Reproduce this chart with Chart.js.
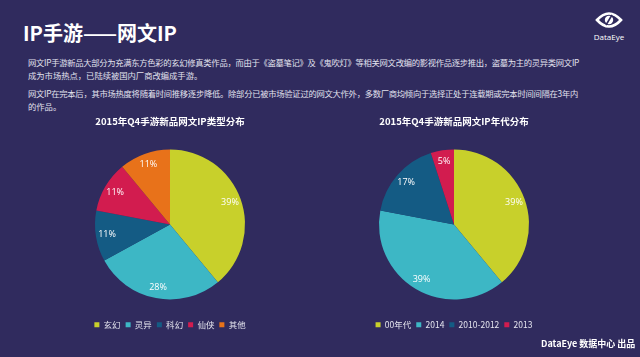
<!DOCTYPE html>
<html><head><meta charset="utf-8">
<script src="https://cdn.jsdelivr.net/npm/chart.js@4"></script>
<style>
html,body{margin:0;padding:0;}
body{width:640px;height:357px;background:#302b5e;position:relative;overflow:hidden;font-family:"Noto Sans CJK SC","Noto Sans",sans-serif;}
.abs{position:absolute;white-space:nowrap;}
#title{left:23px;top:19px;font-size:20px;font-weight:bold;color:#fff;line-height:28px;}
.p{left:28px;font-size:8.3px;color:#e2e2ee;line-height:12px;}
#logoTxt{left:590px;top:31px;width:38px;text-align:center;font-size:8px;color:#fff;line-height:11px;font-family:"Open Sans","Noto Sans",sans-serif;}
#footer{left:541px;top:337px;font-size:9px;font-weight:bold;color:#fff;line-height:14px;}
canvas{position:absolute;}
</style></head>
<body>
<div id="title" class="abs">IP手游——网文IP</div>
<svg class="abs" style="left:595px;top:10px" width="28" height="20" viewBox="0 0 28 20">
  <path d="M2,10 Q14,-3 26,10 Q14,23 2,10 Z" fill="none" stroke="#fff" stroke-width="2.6"/>
  <circle cx="14" cy="10" r="4.2" fill="#fff"/>
  <line x1="11" y1="15" x2="17" y2="5" stroke="#302b5e" stroke-width="1.6"/>
</svg>
<div id="logoTxt" class="abs">DataEye</div>
<div class="abs p" style="top:56px" data-w="551">网文IP手游新品大部分为充满东方色彩的玄幻修真类作品，而由于《盗墓笔记》及《鬼吹灯》等相关网文改编的影视作品逐步推出，盗墓为主的灵异类网文IP</div>
<div class="abs p" style="top:69px">成为市场热点，已陆续被国内厂商改编成手游。</div>
<div class="abs p" style="top:87px" data-w="550">网文IP在完本后，其市场热度将随着时间推移逐步降低。除部分已被市场验证过的网文大作外，多数厂商均倾向于选择正处于连载期或完本时间间隔在3年内</div>
<div class="abs p" style="top:100px">的作品。</div>
<canvas id="c1" width="240" height="229" style="left:50px;top:110px"></canvas>
<canvas id="c2" width="240" height="229" style="left:334px;top:110px"></canvas>
<div id="footer" class="abs">DataEye 数据中心 出品</div>
<script>
// ---- data ----
const typeTitle = '2015年Q4手游新品网文IP类型分布';
const typeLabels = ['玄幻', '灵异', '科幻', '仙侠', '其他'];
const typeValues = [39, 28, 11, 11, 11];
const eraTitle = '2015年Q4手游新品网文IP年代分布';
const eraLabels = ['00年代', '2014', '2010-2012', '2013'];
const eraValues = [39, 39, 17, 5];
const typeColors = ['#c8d02b', '#3db7c5', '#145b84', '#d21c4f', '#e8721a'];
const eraColors = ['#c8d02b', '#3db7c5', '#145b84', '#d21c4f'];

// fit paragraph lines to measured widths
document.querySelectorAll('.p[data-w]').forEach(el => {
  const target = +el.dataset.w;
  const w = el.getBoundingClientRect().width;
  const n = el.textContent.length;
  el.style.letterSpacing = ((target - w) / n) + 'px';
});

Chart.defaults.font.family = '"Noto Sans CJK SC","Noto Sans",sans-serif';

const pctLabels = {
  id: 'pctLabels',
  afterDatasetsDraw(chart) {
    const ctx = chart.ctx;
    const meta = chart.getDatasetMeta(0);
    const data = chart.data.datasets[0].data;
    ctx.save();
    ctx.fillStyle = '#ffffff';
    ctx.font = '9px "Open Sans","Noto Sans",sans-serif';
    ctx.textAlign = 'center';
    ctx.textBaseline = 'middle';
    meta.data.forEach((arc, i) => {
      const p = arc.getProps(['x', 'y', 'startAngle', 'endAngle', 'outerRadius'], true);
      const a = (p.startAngle + p.endAngle) / 2;
      const r = p.outerRadius * 0.85;
      ctx.fillText(data[i] + '%', p.x + Math.cos(a) * r, p.y + Math.sin(a) * r);
    });
    ctx.restore();
  }
};

function makePie(id, title, labels, values, colors) {
  new Chart(document.getElementById(id), {
    type: 'pie',
    data: { labels: labels, datasets: [{ data: values, backgroundColor: colors, borderWidth: 0 }] },
    options: {
      responsive: false,
      animation: false,
      radius: 75,
      layout: { padding: 0 },
      plugins: {
        title: { display: true, text: title, color: '#ffffff',
          font: { size: 9.5, weight: 'bold' }, padding: { top: 6, bottom: 6 } },
        legend: { position: 'bottom',
          labels: { color: '#e4e4ee', font: { size: 8.5 }, boxWidth: 5, boxHeight: 5, padding: 5 } },
        tooltip: { enabled: false }
      }
    },
    plugins: [pctLabels]
  });
}
makePie('c1', typeTitle, typeLabels, typeValues, typeColors);
makePie('c2', eraTitle, eraLabels, eraValues, eraColors);
</script>
</body></html>
